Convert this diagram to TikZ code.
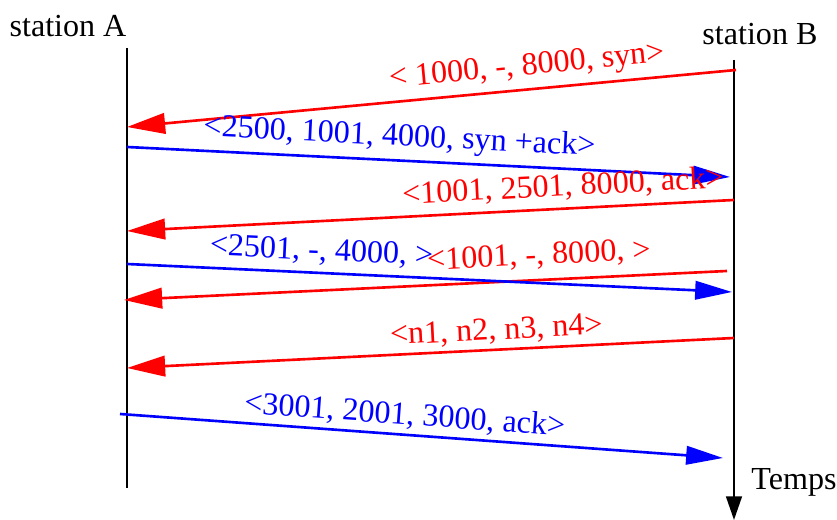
\documentclass[tikz,border=0pt]{standalone}
\usepackage{fontspec}
\setmainfont{Liberation Serif}
\usetikzlibrary{arrows.meta}

\begin{document}
\begin{tikzpicture}[x=0.38pt,y=-0.38pt,
  font=\fontsize{12.2}{14}\selectfont,
  station/.style={line width=0.85pt},
  redmsg/.style={red,line width=1pt,-{Triangle[length=14.5pt,width=7.8pt]}},
  bluemsg/.style={blue,line width=1pt,-{Triangle[length=14pt,width=7pt]}},
  msglabel/.style={sloped,above,inner sep=2.5pt}]
\useasboundingbox (0,0) rectangle (837,520);

\coordinate (v1) at (127,48);
\coordinate (v2) at (127,488);
\coordinate (v3) at (734,60);
\coordinate (v4) at (734,520);
\coordinate (v5) at (736,70);
\coordinate (v6) at (127,127);
\coordinate (v7) at (127,147);
\coordinate (v8) at (730,177);
\coordinate (v9) at (734,200);
\coordinate (v10) at (127,231);
\coordinate (v11) at (127,264);
\coordinate (v12) at (732,292);
\coordinate (v13) at (727,271);
\coordinate (v14) at (124,300);
\coordinate (v15) at (734,338);
\coordinate (v16) at (127,368);
\coordinate (v17) at (120,414);
\coordinate (v18) at (723,458);
\draw [station] (v1) -- (v2);
\draw [station,-{Triangle[length=9pt,width=6pt]}] (v3) -- (v4);
\node [anchor=base] (sA) at (68,37) {station A};
\node [anchor=base] (sB) at (760,45) {station B};
\node [anchor=base] (tps) at (794,490) {Temps};
\draw [redmsg] (v5) -- (v6) node [msglabel,pos=0.34] (m1) {< 1000, -, 8000, syn>};
\draw [bluemsg] (v7) -- (v8) node [msglabel,pos=0.45] (m2) {<2500, 1001, 4000, syn +ack>};
\draw [redmsg] (v9) -- (v10) node [msglabel,pos=0.28] (m3) {<1001, 2501, 8000, ack>};
\draw [redmsg] (v13) -- (v14) node [msglabel,pos=0.31,inner sep=3.5pt] (m5) {<1001, -, 8000, >};
\draw [bluemsg] (v11) -- (v12) node [msglabel,pos=0.32] (m4) {<2501, -, 4000, >};
\draw [redmsg] (v15) -- (v16) node [msglabel,pos=0.39,inner sep=1.5pt] (m6) {<n1, n2, n3, n4>};
\draw [bluemsg] (v17) -- (v18) node [msglabel,pos=0.47,inner sep=1.5pt] (m7) {<3001, 2001, 3000, ack>};
\end{tikzpicture}
\end{document}
